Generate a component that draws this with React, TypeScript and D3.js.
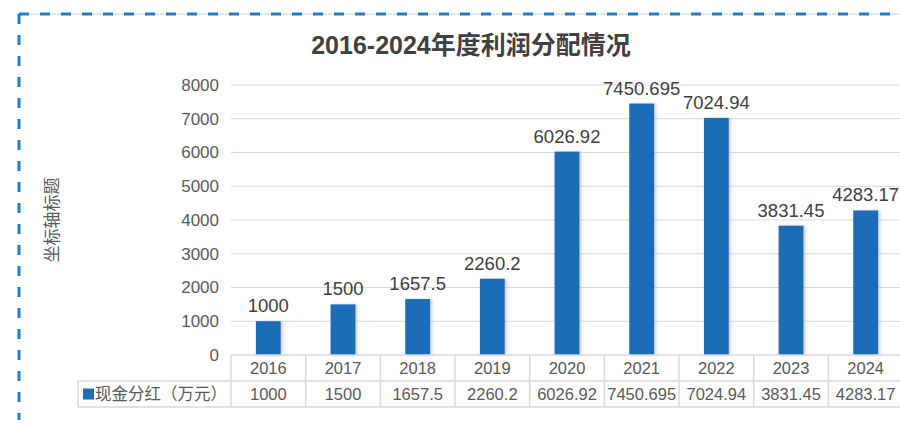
import React from "react";
import * as d3 from "d3";

const categories = ["2016", "2017", "2018", "2019", "2020", "2021", "2022", "2023", "2024"];
const values = [1000, 1500, 1657.5, 2260.2, 6026.92, 7450.695, 7024.94, 3831.45, 4283.17];
const valueLabels = ["1000", "1500", "1657.5", "2260.2", "6026.92", "7450.695", "7024.94", "3831.45", "4283.17"];
const yTicks = [0, 1000, 2000, 3000, 4000, 5000, 6000, 7000, 8000];
const seriesName = "现金分红（万元）";
const title = "2016-2024年度利润分配情况";
const yTitle = "坐标轴标题";

const W = 900;
const H = 426;
const plotLeft = 231;
const plotRight = 903;
const plotTop = 85;
const plotBottom = 355;
const rowH = 26;
const legendLeft = 78;
const font = "'Liberation Sans', Arial, 'Noto Sans CJK SC', sans-serif";

export default function App() {
  const x = d3.scaleBand<string>().domain(categories).range([plotLeft, plotRight]).paddingInner(0.667).paddingOuter(0.333);
  const xCell = d3.scaleBand<string>().domain(categories).range([plotLeft, plotRight]);
  const y = d3.scaleLinear().domain([0, 8000]).range([plotBottom, plotTop]);
  const gridColor = "#d9d9d9";
  const textColor = "#595959";
  return (
    <svg width={W} height={H} style={{ position: "absolute", left: 0, top: 0, background: "#fff" }}>
      <defs>
        <filter id="sh" x="-30%" y="-5%" width="160%" height="110%">
          <feDropShadow dx="2" dy="0" stdDeviation="1.5" floodColor="#8aa0c8" floodOpacity="0.5" />
        </filter>
      </defs>
      <rect x={0} y={0} width={W} height={H} fill="#fff" />
      {/* dashed frame */}
      <line x1={18} x2={W} y1={14} y2={14} stroke="#d0d0d0" strokeWidth={1} />
      <line x1={19} x2={W} y1={14} y2={14} stroke="#1f7fc4" strokeWidth={3} strokeDasharray="10 11" />
      <line x1={19} x2={19} y1={14} y2={420} stroke="#1f7fc4" strokeWidth={3} strokeDasharray="10 11" />
      {/* title */}
      <text x={471} y={54} textAnchor="middle" fontFamily={font} fontWeight="bold" fontSize={25} fill="#404040">{title}</text>
      {/* y title */}
      <text transform={`translate(57.5,${220}) rotate(-90)`} textAnchor="middle" fontFamily={font} fontSize={17} fill={textColor}>{yTitle}</text>
      {/* grid + ticks */}
      {yTicks.map((t) => (
        <g key={t}>
          {t > 0 && <line x1={plotLeft} x2={W} y1={y(t)} y2={y(t)} stroke={gridColor} strokeWidth={1} />}
          <text x={219} y={y(t)} dy="0.35em" textAnchor="end" fontFamily={font} fontSize={17} fill={textColor}>{t}</text>
        </g>
      ))}
      {/* bars */}
      {categories.map((c, i) => (
        <g key={c}>
          <rect x={x(c)} y={y(values[i])} width={x.bandwidth()} height={plotBottom - y(values[i])} fill="#1f6db7" filter="url(#sh)" />
          <text x={(x(c) as number) + x.bandwidth() / 2} y={y(values[i]) - 9} textAnchor="middle" fontFamily={font} fontSize={18.5} fill="#404040">{valueLabels[i]}</text>
        </g>
      ))}
      {/* data table */}
      <line x1={plotLeft} x2={W} y1={plotBottom} y2={plotBottom} stroke={gridColor} strokeWidth={1.5} />
      <line x1={legendLeft} x2={W} y1={plotBottom + rowH} y2={plotBottom + rowH} stroke={gridColor} strokeWidth={1.5} />
      <line x1={legendLeft} x2={W} y1={plotBottom + 2 * rowH} y2={plotBottom + 2 * rowH} stroke={gridColor} strokeWidth={1.5} />
      <line x1={legendLeft} x2={legendLeft} y1={plotBottom + rowH} y2={plotBottom + 2 * rowH} stroke={gridColor} strokeWidth={1.5} />
      {categories.map((c) => (
        <line key={"v" + c} x1={xCell(c)} x2={xCell(c)} y1={plotBottom} y2={plotBottom + 2 * rowH} stroke={gridColor} strokeWidth={1.5} />
      ))}
      {categories.map((c, i) => (
        <g key={"t" + c}>
          <text x={(xCell(c) as number) + xCell.bandwidth() / 2} y={plotBottom + rowH / 2} dy="0.36em" textAnchor="middle" fontFamily={font} fontSize={16.5} fill={textColor}>{c}</text>
          <text x={(xCell(c) as number) + xCell.bandwidth() / 2} y={plotBottom + rowH * 1.5} dy="0.36em" textAnchor="middle" fontFamily={font} fontSize={16.5} fill={textColor}>{valueLabels[i]}</text>
        </g>
      ))}
      <rect x={83} y={plotBottom + rowH * 1.5 - 5.5} width={11} height={11} fill="#1f6db7" />
      <text x={95} y={plotBottom + rowH * 1.5} dy="0.36em" fontFamily={font} fontSize={16.5} fill={textColor}>{seriesName}</text>
    </svg>
  );
}
